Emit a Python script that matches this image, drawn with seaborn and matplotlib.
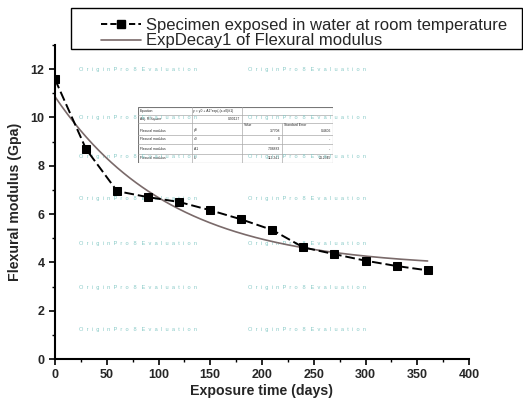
import numpy as np
import pandas as pd
import matplotlib
matplotlib.use("Agg")
import matplotlib.pyplot as plt
import seaborn as sns
from matplotlib.patches import Rectangle
from matplotlib.lines import Line2D
from matplotlib.ticker import MultipleLocator

# Measured flexural modulus over the exposure period
days = [0, 30, 60, 90, 120, 150, 180, 210, 240, 270, 300, 330, 360]
modulus = [11.58, 8.69, 6.95, 6.70, 6.50, 6.16, 5.78, 5.34, 4.62, 4.34, 4.07, 3.85, 3.67]

# ExpDecay1 fit: y = y0 + A1*exp(-(x - x0)/t1)
param_names = ["y0", "x0", "A1", "t1"]
param_values = [3.7708, 0.0, 7.08883, 112.2409]
param_errors = ["0.4806", "--", "--", "24.2345"]
adj_r_square = 0.90127

series_label = "Specimen exposed in water at room temperature"
fit_label = "ExpDecay1 of Flexural modulus"
x_label = "Exposure time (days)"
y_label = "Flexural modulus (Gpa)"
watermark = "OriginPro 8 Evaluation"

sns.set_theme(style="ticks")
plt.rcParams["font.family"] = ["Liberation Sans", "DejaVu Sans"]

fig = plt.figure(figsize=(5.23, 4.03), dpi=100)
fig.patch.set_facecolor("white")

# fit-results inset table (drawn beneath the watermark)
tab = fig.add_axes([138 / 523, 1 - 163 / 403, 195 / 523, 56 / 403], zorder=1)
tab.set_xlim(138, 333)
tab.set_ylim(163, 107)
tab.axis("off")
tab.add_patch(Rectangle((138, 107), 195, 56, facecolor="white",
                        edgecolor="#777777", linewidth=0.8))
row_lines = [114.7, 122.7, 134.7, 144.3, 153.7]
for yl in row_lines:
    tab.plot([138, 333], [yl, yl], color="#aaaaaa", lw=0.5)
tab.plot([192, 192], [107, 163], color="#aaaaaa", lw=0.5)
tab.plot([242, 242], [107, 163], color="#aaaaaa", lw=0.5)
tab.plot([282, 282], [122.7, 163], color="#aaaaaa", lw=0.5)
fs = 2.4
tab.text(140, 111, "Equation", fontsize=fs, va="center")
tab.text(193, 111, "y = y0 + A1*exp(-(x-x0)/t1)", fontsize=fs, va="center")
tab.text(140, 118.7, "Adj. R-Square", fontsize=fs, va="center")
tab.text(240, 118.7, f"{adj_r_square:.5f}", fontsize=fs, va="center", ha="right")
tab.text(244, 125, "Value", fontsize=fs, va="center")
tab.text(284, 125, "Standard Error", fontsize=fs, va="center")
row_centers = [130.5, 139.5, 149.0, 158.5]
for name, val, err, yc in zip(param_names, param_values, param_errors, row_centers):
    tab.text(140, yc, "Flexural modulus", fontsize=fs, va="center")
    tab.text(194, yc, name, fontsize=fs, va="center")
    tab.text(280, yc, f"{val:g}", fontsize=fs, va="center", ha="right")
    tab.text(331, yc, err, fontsize=fs, va="center", ha="right")

ax = fig.add_axes([55 / 523, 1 - 359 / 403, 414 / 523, 314 / 403], zorder=3)
ax.patch.set_alpha(0)

# watermark grid, laid over the table but under the data
wm_text = "   ".join("  ".join(w) for w in watermark.split(" "))
wm_layer = fig.add_axes(ax.get_position().bounds, zorder=2)
wm_layer.set_xlim(0, 400)
wm_layer.set_ylim(0, 13)
wm_layer.axis("off")
for wx in (23.2, 186.5):
    for wy in (12.0, 10.01, 8.40, 6.66, 4.80, 2.98, 1.24):
        wm_layer.text(wx, wy, wm_text, fontsize=4.1, color="#86c9c6",
                      ha="left", va="center")

p = dict(zip(param_names, param_values))
fit_x = np.linspace(0, 360, 300)
fit_y = p["y0"] + p["A1"] * np.exp(-(fit_x - p["x0"]) / p["t1"])
fit_df = pd.DataFrame({"x": fit_x, "y": fit_y})
data_df = pd.DataFrame({"x": days, "y": modulus})

sns.lineplot(data=fit_df, x="x", y="y", ax=ax, color="#7a6a6a",
             linewidth=1.2, zorder=2)
sns.lineplot(data=data_df, x="x", y="y", ax=ax, color="black",
             linewidth=1.4, marker="s", markersize=6.2,
             markeredgecolor="black", ls=(0, (5, 2)), zorder=3)

ax.set_xlim(0, 400)
ax.set_ylim(0, 13)
ax.xaxis.set_major_locator(MultipleLocator(50))
ax.xaxis.set_minor_locator(MultipleLocator(25))
ax.yaxis.set_major_locator(MultipleLocator(2))
ax.yaxis.set_minor_locator(MultipleLocator(1))
ax.tick_params(which="major", direction="out", length=4, width=1.2,
               labelsize=9, color="black", pad=3.5)
ax.tick_params(which="minor", direction="out", length=2.5, width=1.0,
               color="black")
for lbl in ax.get_xticklabels() + ax.get_yticklabels():
    lbl.set_fontweight("bold")
for side in ("top", "right"):
    ax.spines[side].set_visible(False)
for side in ("left", "bottom"):
    ax.spines[side].set_linewidth(1.5)
    ax.spines[side].set_color("black")
ax.set_xlabel(x_label, fontsize=10.2, fontweight="bold", labelpad=2)
ax.set_ylabel(y_label, fontsize=10.2, fontweight="bold", labelpad=6)

# legend box spanning to the figure edge
fig.patches.append(Rectangle((71 / 523, 1 - 49 / 403), 451 / 523, 41 / 403,
                             transform=fig.transFigure, fill=False,
                             edgecolor="black", linewidth=1.0))
handles = [
    Line2D([], [], color="black", linewidth=1.4, ls=(0, (3.2, 1.6)),
           marker="s", markersize=5.5),
    Line2D([], [], color="#7a6a6a", linewidth=1.2),
]
fig.legend(handles, [series_label, fit_label], loc="upper left",
           bbox_to_anchor=(89 / 523, 1 - 6 / 403), frameon=False,
           fontsize=12, handlelength=2.4, handletextpad=0.3,
           labelspacing=0.05, borderpad=0.2)

fig.savefig("out.png", dpi=100, facecolor="white")
